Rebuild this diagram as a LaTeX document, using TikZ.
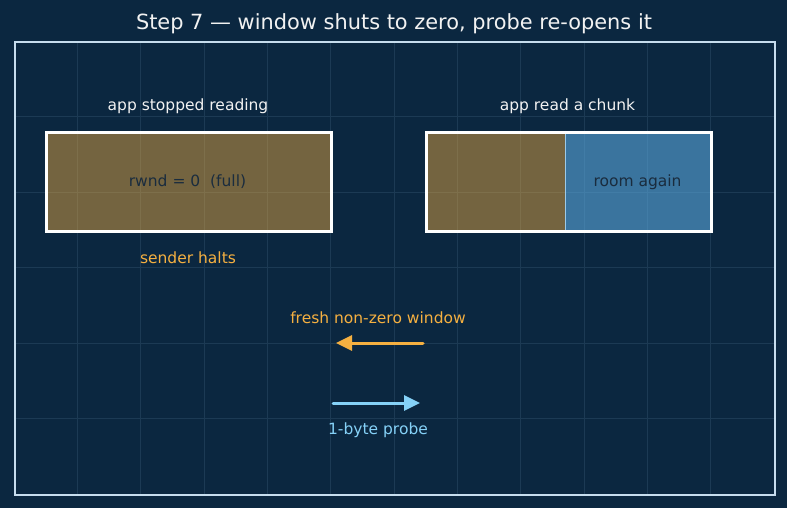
\documentclass[tikz,border=0pt]{standalone}
\usepackage{fontspec}
\setmainfont{DejaVu Sans}
\usetikzlibrary{arrows.meta}
\definecolor{bgc}{HTML}{0B2740}
\definecolor{gridc}{HTML}{1C3A54}
\definecolor{framec}{HTML}{C6DDEE}
\definecolor{orangec}{HTML}{F5B041}
\definecolor{bluec}{HTML}{5DADE2}
\definecolor{probec}{HTML}{85D1F7}
\definecolor{darktext}{HTML}{1A2C3E}
\definecolor{whitetext}{HTML}{F2F2F2}
\tikzset{
  lbl/.style={font=\fontsize{15.5bp}{18bp}\selectfont, inner sep=0pt},
  bufbox/.style={draw=white, line width=3bp, inner sep=0pt},
  orangearrow/.style={draw=orangec, line width=3bp, line cap=round, line join=round, -{Triangle[length=16bp,width=15bp]}},
  bluearrow/.style={draw=probec, line width=3bp, line cap=round, line join=round, -{Triangle[length=16bp,width=15bp]}},
}
\begin{document}
\begin{tikzpicture}[x=1bp,y=-1bp]
\fill[bgc] (0,0) rectangle (787,508);
\useasboundingbox (0,0) rectangle (787,508);
% grid
\foreach \k in {1,...,11} {
  \draw[gridc, line width=0.9bp] ({14+63.333*\k},41) -- ({14+63.333*\k},494);
}
\foreach \k in {1,...,5} {
  \draw[gridc, line width=0.9bp] (14,{41+75.5*\k}) -- (774,{41+75.5*\k});
}
% frame
\node[draw=framec, line width=1.6bp, minimum width=760bp, minimum height=453bp, inner sep=0pt, anchor=north west] (frame) at (14,41) {};
% title
\node[font=\fontsize{20.9bp}{24bp}\selectfont, text=whitetext, inner sep=0pt] (title) at (394,24) {Step 7 — window shuts to zero, probe re-opens it};
% left box
\fill[orangec, fill opacity=0.45] (45,131) rectangle (330,230);
\node[bufbox, minimum width=285bp, minimum height=99bp, anchor=north west] (leftbox) at (45,131) {};
\node[lbl, text=darktext] (rwnd) at (187.5,182) {rwnd = 0\ \ (full)};
\node[lbl, text=whitetext] (lefttop) at (188,106) {app stopped reading};
\node[lbl, text=orangec] (halts) at (188,257.5) {sender halts};
% right box
\fill[orangec, fill opacity=0.45] (425,131) rectangle (565,230);
\fill[bluec, fill opacity=0.58] (565,131) rectangle (710,230);
\node[inner sep=0pt, minimum width=140bp, minimum height=99bp, anchor=north west] (rightfull) at (425,131) {};
\node[inner sep=0pt, minimum width=145bp, minimum height=99bp, anchor=north west] (rightroom) at (565,131) {};
\draw[framec!60!bluec, line width=1.4bp] (rightfull.north east) -- (rightfull.south east);
\node[bufbox, minimum width=285bp, minimum height=99bp, anchor=north west] (rightbox) at (425,131) {};
\node[lbl, text=darktext] (room) at (637.5,182) {room again};
\node[lbl, text=whitetext] (righttop) at (567.5,106) {app read a chunk};
% arrows
\coordinate (winstart) at (423,343);
\coordinate (winend) at (336,343);
\coordinate (probestart) at (333,403);
\coordinate (probeend) at (420,403);
\draw[orangearrow] (winstart) -- (winend);
\draw[bluearrow] (probestart) -- (probeend);
\node[lbl, text=orangec] (winlbl) at (378,317.5) {fresh non-zero window};
\node[lbl, text=probec] (probelbl) at (378,430.5) {1-byte probe};
\end{tikzpicture}
\end{document}
